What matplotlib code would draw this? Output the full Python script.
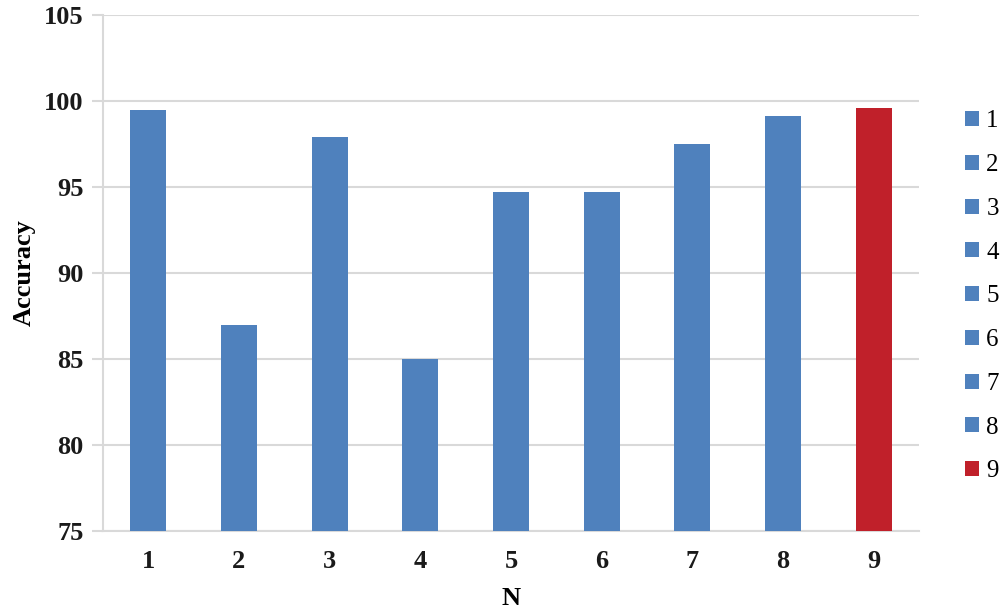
import matplotlib.pyplot as plt
from matplotlib.patches import Patch

# values
n_labels = ['1', '2', '3', '4', '5', '6', '7', '8', '9']
accuracy = [99.5, 87.0, 97.9, 85.0, 94.7, 94.7, 97.5, 99.1, 99.6]
bar_colors = ['#4F81BD'] * 8 + ['#C0202A']
y_ticks = [75, 80, 85, 90, 95, 100, 105]

plt.rcParams['font.family'] = ['Liberation Serif', 'DejaVu Serif']

fig = plt.figure(figsize=(10, 6.1), dpi=100)
ax = fig.add_axes([0.103, 0.1295, 0.816, 0.846])

x = range(len(n_labels))
ax.bar(x, accuracy, width=0.4, color=bar_colors, zorder=3)

ax.set_xlim(-0.5, len(n_labels) - 0.5)
ax.set_ylim(75, 105)
ax.set_yticks(y_ticks)
ax.set_xticks(list(x))
ax.set_xticklabels(n_labels)

ax.grid(axis='y', color='#D9D9D9', linewidth=1.5, zorder=0)
for side in ['top', 'right']:
    ax.spines[side].set_visible(False)
for side in ['left', 'bottom']:
    ax.spines[side].set_color('#D9D9D9')
    ax.spines[side].set_linewidth(1.5)

ax.tick_params(axis='y', length=8, width=1.5, color='#D9D9D9', pad=6,
               labelsize=19)
ax.tick_params(axis='x', length=0, pad=14, labelsize=19)
for lbl in ax.get_xticklabels() + ax.get_yticklabels():
    lbl.set_fontweight('bold')
    lbl.set_color('#1a1a1a')

ax.set_ylabel('Accuracy', fontsize=19, fontweight='bold', labelpad=6)
ax.set_xlabel('N', fontsize=19, fontweight='bold', labelpad=10)

handles = [Patch(facecolor=c) for c in bar_colors]
fig.legend(handles, n_labels, loc='center left', bbox_to_anchor=(0.955, 0.514),
           frameon=False, fontsize=18, handlelength=0.55, handleheight=0.55,
           handletextpad=0.3, labelspacing=0.87, borderaxespad=0)

fig.savefig('out.png', dpi=100)
